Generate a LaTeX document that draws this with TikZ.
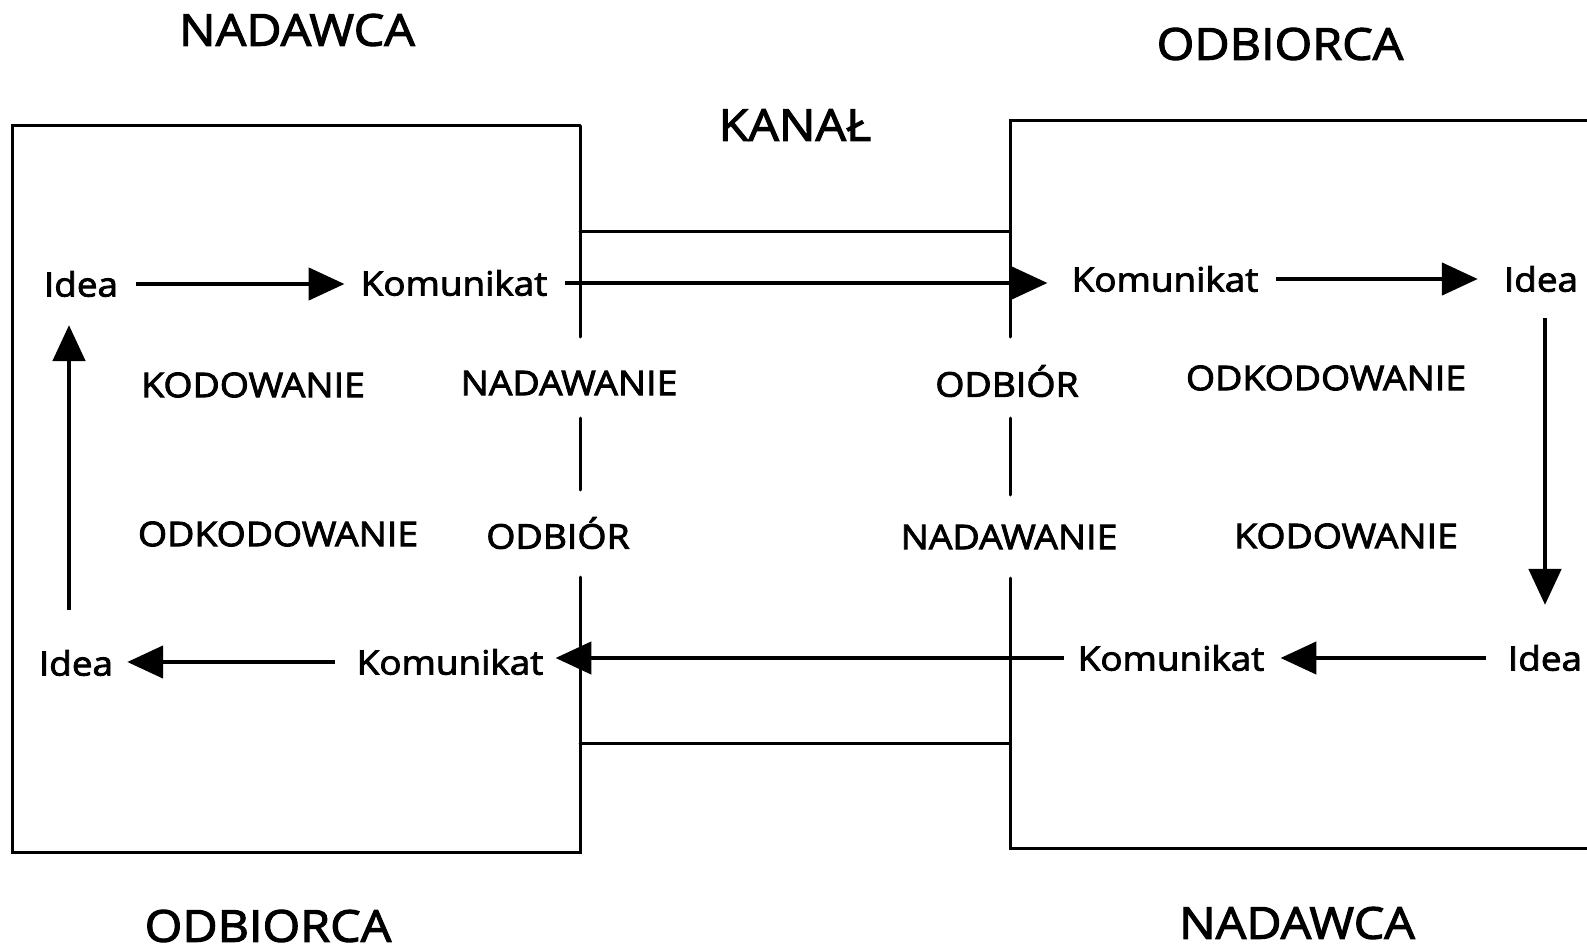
\documentclass[tikz,border=0pt]{standalone}
\usepackage{fontspec}
\setmainfont{Open Sans}[FakeStretch=1.1, RawFeature={embolden=2.5}]
\usetikzlibrary{arrows.meta}
\begin{document}
\begin{tikzpicture}[x=1pt,y=-1pt,
  boxline/.style={line width=3pt, line cap=round},
  arr/.style={line width=4.8pt, -{Triangle[length=36pt,width=32pt]}},
  word/.style={font=\fontsize{33.5}{40}\selectfont, inner sep=0pt},
  act/.style={font=\fontsize{34}{40}\selectfont, inner sep=0pt},
  role/.style={font=\fontsize{44}{50}\selectfont, inner sep=0pt}]
\useasboundingbox (0,0) rectangle (1587,952);
% boxes
\draw[boxline] (580,126) -- (12,126) -- (12,852) -- (580,852) -- (580,577);
\draw[boxline] (580,126) -- (580,337);
\draw[boxline] (580,418) -- (580,490);
\draw[boxline] (1600,121) -- (1010,121) -- (1010,337);
\draw[boxline] (1010,418) -- (1010,495);
\draw[boxline] (1010,578) -- (1010,848) -- (1600,848);
% channel
\draw[boxline] (580,231) -- (1010,231);
\draw[boxline] (580,743) -- (1010,743);
% role labels
\node[role] (nad1) at (297,30) {NADAWCA};
\node[role] (odb1) at (1280,44) {ODBIORCA};
\node[role] (kanal) at (795,125) {KANAŁ};
\node[role] (odb2) at (268,926) {ODBIORCA};
\node[role] (nad2) at (1297,923) {NADAWCA};
% words
\node[word] (i1) at (81,284) {Idea};
\node[word] (k1) at (454,283) {Komunikat};
\node[word] (k2) at (1165,279) {Komunikat};
\node[word] (i2) at (1541,279) {Idea};
\node[word] (i3) at (1545,658) {Idea};
\node[word] (k3) at (1171,658) {Komunikat};
\node[word] (k4) at (450,662) {Komunikat};
\node[word] (i4) at (76,663) {Idea};
% activity labels
\node[act] (kod1) at (253,385) {KODOWANIE};
\node[act] (nw1) at (569,383) {NADAWANIE};
\node[act] (ob1) at (1007,381) {ODBIÓR};
\node[act] (okod1) at (1326,378) {ODKODOWANIE};
\node[act] (okod2) at (278,534) {ODKODOWANIE};
\node[act] (ob2) at (558,533) {ODBIÓR};
\node[act] (nw2) at (1009,537) {NADAWANIE};
\node[act] (kod2) at (1346,536) {KODOWANIE};
% arrows
\draw[arr] ([xshift=18pt]i1.east) -- ([xshift=-16pt]k1.west |- i1.east);
\draw[arr] ([xshift=18pt]k1.east) -- ([xshift=-24pt]k2.west |- k1.east);
\draw[arr] ([xshift=18pt]k2.east) -- ([xshift=-26pt]i2.west |- k2.east);
\draw[arr] ([yshift=-26pt]i2.south -| 1545,0) -- ([yshift=40pt]i3.north -| 1545,0);
\draw[arr] ([xshift=-22pt]i3.west) -- ([xshift=16pt]k3.east |- i3.west);
\draw[arr] ([xshift=-14pt]k3.west) -- ([xshift=12pt]k4.east |- k3.west);
\draw[arr] ([xshift=-22pt]k4.west) -- ([xshift=14pt]i4.east |- k4.west);
\draw[arr] ([yshift=40pt]i4.north -| 69,0) -- ([yshift=-28pt]i1.south -| 69,0);
\end{tikzpicture}
\end{document}
